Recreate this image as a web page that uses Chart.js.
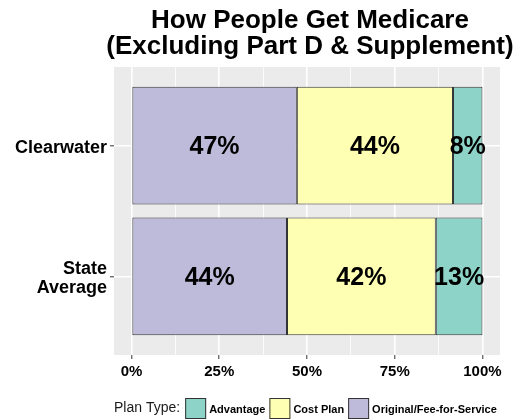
<!DOCTYPE html>
<html>
<head>
<meta charset="utf-8">
<script src="https://cdn.jsdelivr.net/npm/chart.js@4"></script>
<style>
html,body{margin:0;padding:0;background:#fff;}
canvas{display:block;}
</style>
</head>
<body>
<canvas id="c" width="521" height="420"></canvas>
<script>
const titleLines = ['How People Get Medicare', '(Excluding Part D & Supplement)'];
const categories = [['Clearwater'], ['State', 'Average']];
const seriesNames = ['Original/Fee-for-Service', 'Cost Plan', 'Advantage'];
const original = [47.1, 44.3];
const costPlan = [44.5, 42.4];
const advantage = [8.4, 13.3];
const xMajorTicks = [0, 25, 50, 75, 100];
const xMinorTicks = [12.5, 37.5, 62.5, 87.5];
const legendTitle = 'Plan Type:';

const FONT = "'Liberation Sans', Arial, sans-serif";
const colors = ['#BEBADA', '#FFFFB3', '#8DD3C7'];
const seriesValues = [original, costPlan, advantage];

const bgPlugin = {
  id: 'panelBg',
  beforeDraw(chart) {
    const {ctx, chartArea: a} = chart;
    ctx.save();
    ctx.fillStyle = '#EBEBEB';
    ctx.fillRect(a.left, a.top, a.width, a.height);
    ctx.restore();
  }
};

const labelPlugin = {
  id: 'barLabels',
  afterDatasetsDraw(chart) {
    const ctx = chart.ctx;
    ctx.save();
    ctx.font = 'bold 25px ' + FONT;
    ctx.fillStyle = '#000';
    ctx.textAlign = 'center';
    ctx.textBaseline = 'middle';
    chart.data.datasets.forEach((ds, di) => {
      const meta = chart.getDatasetMeta(di);
      meta.data.forEach((el, i) => {
        const v = ds.data[i].x;
        ctx.fillText(Math.floor(v) + '%', (el.x + el.base) / 2, el.y + 2);
      });
    });
    ctx.restore();
  }
};

const titleLegendPlugin = {
  id: 'titleLegend',
  afterDraw(chart) {
    const {ctx, chartArea: a} = chart;
    ctx.save();
    const cx = (a.left + a.right) / 2 + 3;
    ctx.font = 'bold 26px ' + FONT;
    ctx.fillStyle = '#000';
    ctx.textAlign = 'center';
    ctx.textBaseline = 'alphabetic';
    ctx.fillText(titleLines[0], cx, 28);
    ctx.fillText(titleLines[1], cx, 54);
    const cy = 408.5;
    let x = a.left;
    ctx.textAlign = 'left';
    ctx.textBaseline = 'middle';
    ctx.font = '14px ' + FONT;
    ctx.fillStyle = '#1a1a1a';
    ctx.fillText(legendTitle, x, cy);
    x += ctx.measureText(legendTitle).width + 5;
    const order = [2, 1, 0];
    ctx.font = 'bold 11px ' + FONT;
    order.forEach(di => {
      const ds = chart.data.datasets[di];
      ctx.fillStyle = ds.backgroundColor;
      ctx.fillRect(x, cy - 10.5, 21, 21);
      ctx.strokeStyle = '#333';
      ctx.lineWidth = 1;
      ctx.strokeRect(x + 0.5, cy - 10, 20, 20);
      x += 24;
      ctx.fillStyle = '#000';
      ctx.fillText(ds.label, x, cy + 1);
      x += ctx.measureText(ds.label).width + 4;
    });
    ctx.restore();
  }
};

const datasets = seriesNames.map((name, di) => ({
  label: name,
  data: seriesValues[di].map((v, i) => ({x: v, y: i + 1})),
  backgroundColor: colors[di],
  borderColor: '#333',
  borderWidth: 1,
  borderSkipped: false,
  categoryPercentage: 1,
  barPercentage: 0.9
}));

const allXTicks = xMajorTicks.concat(xMinorTicks).sort((p, q) => p - q);
const isMajor = v => xMajorTicks.includes(v);

new Chart(document.getElementById('c'), {
  type: 'bar',
  data: {datasets},
  options: {
    indexAxis: 'y',
    responsive: false,
    animation: false,
    devicePixelRatio: 1,
    layout: {padding: {top: 67, bottom: 35, left: 0, right: 21}},
    plugins: {legend: {display: false}, tooltip: {enabled: false}, title: {display: false}},
    scales: {
      x: {
        type: 'linear',
        stacked: true,
        min: -5,
        max: 105,
        offset: false,
        afterBuildTicks: s => { s.ticks = allXTicks.map(v => ({value: v})); },
        afterFit: s => { s.height = 30; },
        ticks: {
          callback: v => isMajor(v) ? v + '%' : '',
          font: {family: FONT, size: 15, weight: 'bold'},
          color: '#000',
          padding: 4,
          maxRotation: 0,
          autoSkip: false
        },
        grid: {
          offset: false,
          color: '#fff',
          lineWidth: c => (c.tick && isMajor(c.tick.value)) ? 1.6 : 0.8,
          tickColor: c => (c.tick && isMajor(c.tick.value)) ? '#333' : 'rgba(0,0,0,0)',
          tickLength: 4,
          tickWidth: 1
        },
        border: {display: false}
      },
      y: {
        type: 'linear',
        stacked: true,
        reverse: true,
        min: 0.4,
        max: 2.6,
        offset: false,
        afterBuildTicks: s => { s.ticks = categories.map((c, i) => ({value: i + 1})); },
        afterFit: s => { s.width = 114; },
        ticks: {
          callback: v => categories[v - 1],
          font: {family: FONT, size: 18, weight: 'bold', lineHeight: 1.1},
          color: '#000',
          padding: 3,
          labelOffset: 2,
          autoSkip: false
        },
        grid: {
          offset: false,
          color: '#fff',
          lineWidth: 1.6,
          tickColor: '#333',
          tickLength: 4,
          tickWidth: 1
        },
        border: {display: false}
      }
    }
  },
  plugins: [bgPlugin, labelPlugin, titleLegendPlugin]
});
</script>
</body>
</html>
